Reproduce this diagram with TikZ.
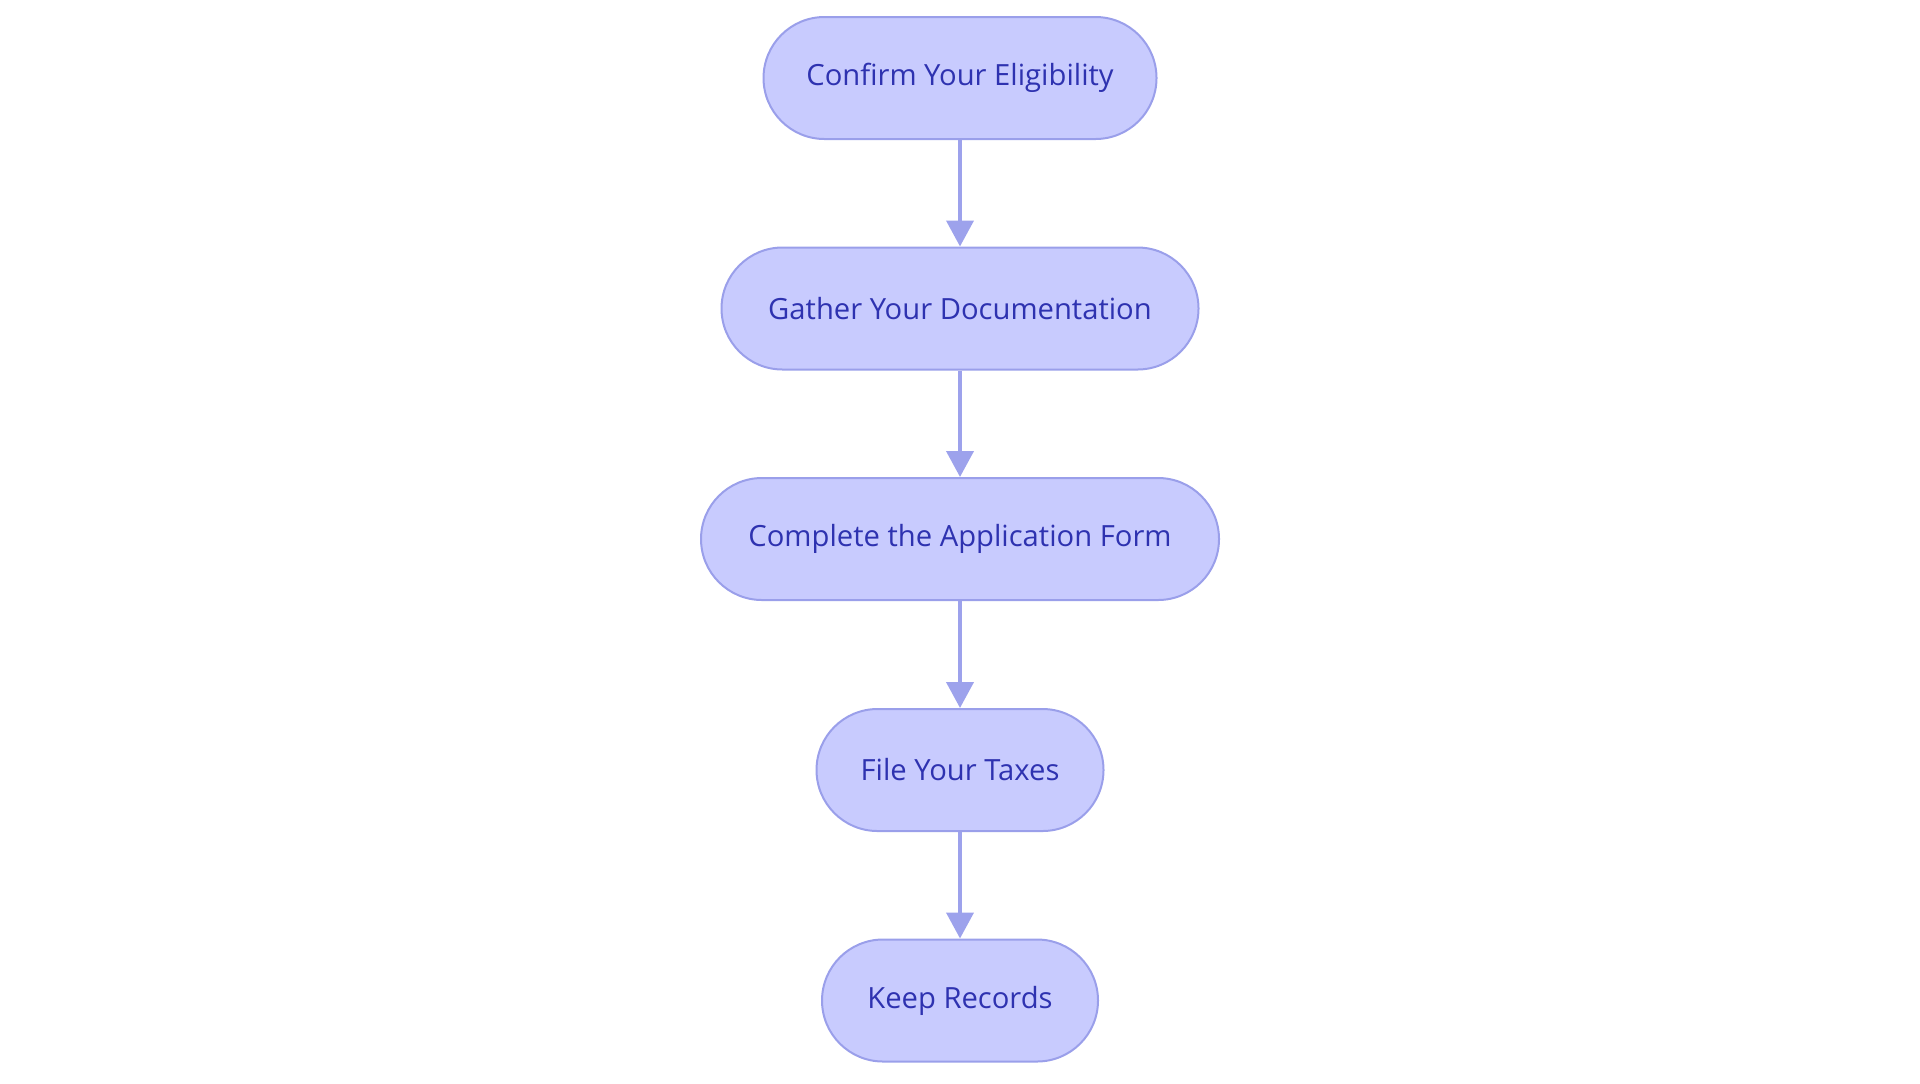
\documentclass[tikz,border=0pt]{standalone}
\usepackage{fontspec}
\setmainfont{Open Sans}
\usetikzlibrary{arrows.meta}
\definecolor{nodefill}{HTML}{C8CBFE}
\definecolor{nodeborder}{HTML}{9A9FEA}
\definecolor{nodetext}{HTML}{2E32B0}
\definecolor{arrowcol}{HTML}{9DA2EC}
\begin{document}
\begin{tikzpicture}[x=1pt,y=1pt,
  stepbox/.style={draw=nodeborder, line width=1pt, fill=nodefill, text=nodetext,
    rounded corners=30.5pt, minimum height=61pt, inner sep=0pt,
    font=\fontsize{14.6}{17}\selectfont},
  flow/.style={draw=arrowcol, line width=2pt, -{Triangle[width=13.5pt,length=13pt]}}]
\useasboundingbox (0,0) rectangle (960,-541.5);
\node[stepbox, minimum width=196.5pt] (n1) at (480,-39) {Confirm Your Eligibility};
\node[stepbox, minimum width=238.5pt] (n2) at (480,-154.25) {Gather Your Documentation};
\node[stepbox, minimum width=259pt] (n3) at (480,-269.5) {Complete the Application Form};
\node[stepbox, minimum width=143.5pt] (n4) at (480,-385) {File Your Taxes};
\node[stepbox, minimum width=138pt] (n5) at (480,-500.25) {Keep Records};
\draw[flow] (n1) -- (n2);
\draw[flow] (n2) -- (n3);
\draw[flow] (n3) -- (n4);
\draw[flow] (n4) -- (n5);
\end{tikzpicture}
\end{document}
